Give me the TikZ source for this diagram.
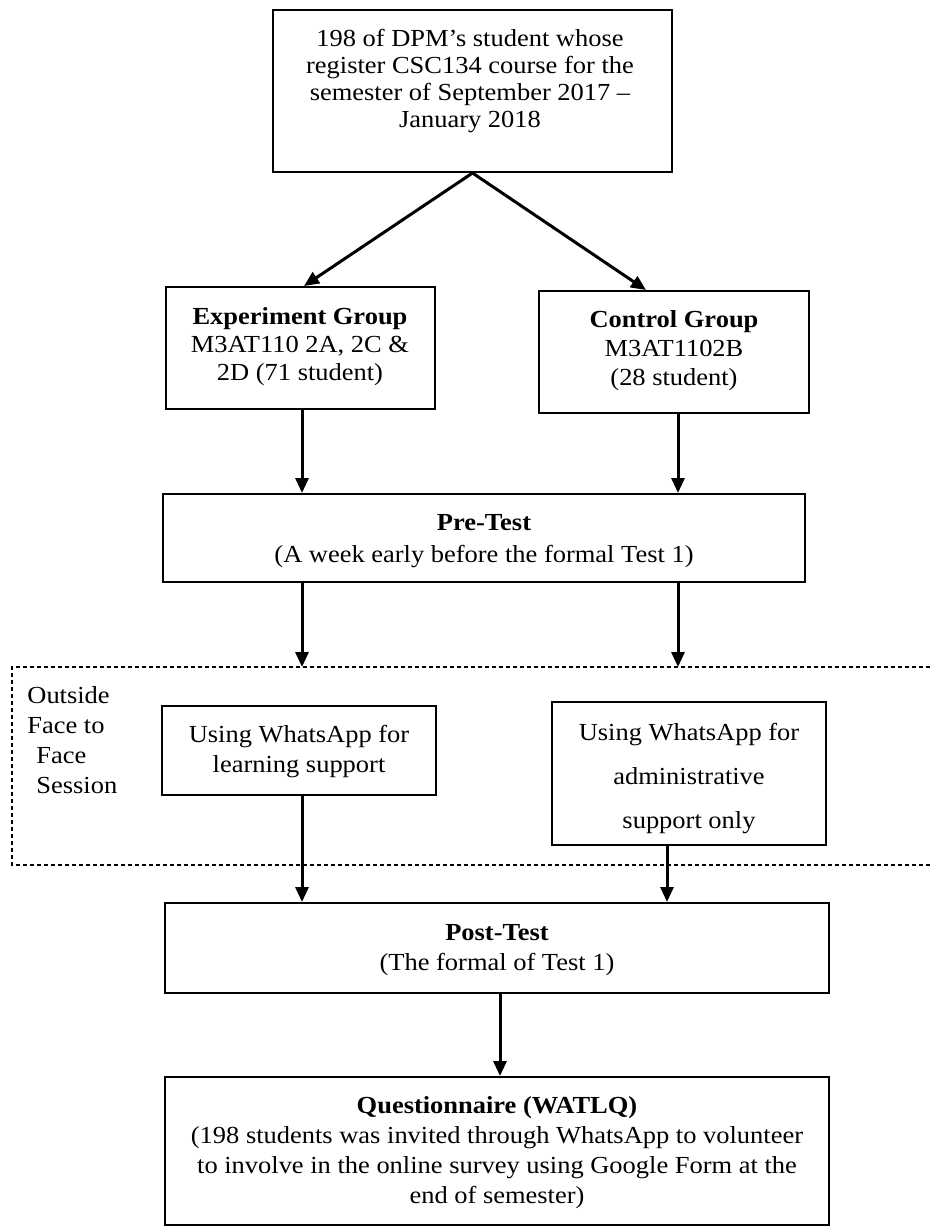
\documentclass[tikz,border=0pt]{standalone}
\usepackage{fontspec}
\setmainfont{Liberation Serif}[FakeStretch=1.08]
\usetikzlibrary{arrows.meta,calc}
\newcommand\lsp[1]{\fontsize{12.25}{#1}\selectfont}
\begin{document}
\begin{tikzpicture}[x=0.5pt,y=-0.5pt,
  box/.style={draw, line width=1pt, inner sep=0pt, rectangle},
  txt/.style={inner sep=0pt, anchor=base, align=center},
  arr/.style={-{Triangle[length=7.5pt,width=6.5pt]}, line width=1.5pt},
  regionline/.style={line width=0.6pt, dash pattern=on 2pt off 1.5pt}]
\useasboundingbox (0,0) rectangle (930,1227);
% boxes
\node[box, minimum width=199.5pt, minimum height=81pt] (top) at (472.5,91) {};
\node[box, minimum width=134.5pt, minimum height=61pt] (exp) at (300.5,348) {};
\node[box, minimum width=135pt, minimum height=61pt] (ctl) at (674,352) {};
\node[box, minimum width=321pt, minimum height=44pt] (pre) at (484,538) {};
\node[box, minimum width=137pt, minimum height=44.5pt] (learn) at (299,750.5) {};
\node[box, minimum width=137pt, minimum height=71.5pt] (admin) at (689,773.5) {};
\node[box, minimum width=332pt, minimum height=45pt] (post) at (497,948) {};
\node[box, minimum width=332pt, minimum height=74pt] (quest) at (497,1151) {};
% texts (anchored at the baseline of their last line)
\node[txt, font=\lsp{13.5}] (topT) at (470,127) {198 of DPM’s student whose\\register CSC134 course for the\\semester of September 2017 –\\January 2018};
\node[txt, font=\lsp{14}] (expT) at (300,380) {\bfseries Experiment Group\\M3AT110 2A, 2C \&\\2D (71 student)};
\node[txt, font=\lsp{14.5}] (ctlT) at (674,385) {\bfseries Control Group\\M3AT1102B\\(28 student)};
\node[txt, font=\lsp{16}] (preT) at (484,562) {\bfseries Pre-Test\\(A week early before the formal Test 1)};
\node[txt, font=\lsp{15}] (learnT) at (299,772) {Using WhatsApp for\\learning support};
\node[txt, font=\lsp{22}] (adminT) at (689,828) {Using WhatsApp for\\administrative\\support only};
\node[txt, font=\lsp{15}, align=left, anchor=base west] (outT) at (27,793) {Outside\\Face to\\\hspace{4.5pt}Face\\\hspace{4.5pt}Session};
\node[txt, font=\lsp{15}] (postT) at (497,970) {\bfseries Post-Test\\(The formal of Test 1)};
\node[txt, font=\lsp{15}] (questT) at (497,1203) {\bfseries Questionnaire (WATLQ)\\(198 students was invited through WhatsApp to volunteer\\to involve in the online survey using Google Form at the\\end of semester)};
% columns and free ends
\coordinate (cL) at (302,0);
\coordinate (cR) at (678,0);
\coordinate (cA) at (667,0);
\coordinate (cP) at (500,0);
\coordinate (dL) at (302,667);
\coordinate (dR) at (678,667);
% dashed region
\draw[regionline] (930,667) -- (12,667) -- (12,865) -- (930,865);
% connectors
\draw[arr] (top.south) -- ($(exp.north)+(3.5,0)$);
\draw[arr] (top.south) -- ($(ctl.north)+(-28,0)$);
\draw[arr] (exp.south -| cL) -- (pre.north -| cL);
\draw[arr] (ctl.south -| cR) -- (pre.north -| cR);
\draw[arr] (pre.south -| cL) -- (dL);
\draw[arr] (pre.south -| cR) -- (dR);
\draw[arr] (learn.south -| cL) -- (post.north -| cL);
\draw[arr] (admin.south -| cA) -- (post.north -| cA);
\draw[arr] (post.south -| cP) -- (quest.north -| cP);
\end{tikzpicture}
\end{document}
